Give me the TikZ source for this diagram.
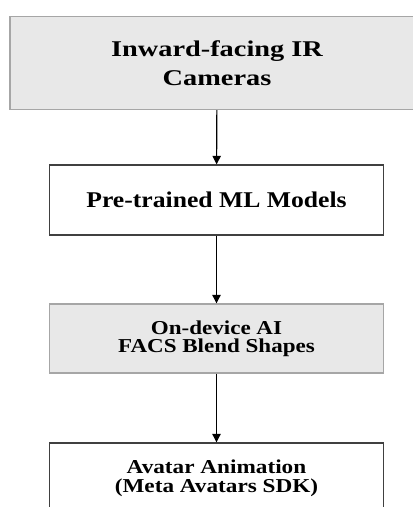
\documentclass[tikz,border=0pt]{standalone}
\usepackage{fontspec}
\setmainfont{Liberation Serif}
\usetikzlibrary{arrows.meta}

\begin{document}
\begin{tikzpicture}[x=0.025cm, y=-0.025cm]
    		\tikzstyle{grisBoite}=[draw=gray!70, line width=1pt, fill=gray!18, align=center]
    		\tikzstyle{blancBoite}=[draw=black!75, line width=1pt, fill=white, align=center]
    		\tikzstyle{fleche}=[-{Triangle[length=6pt,width=6pt]}, line width=0.8pt]

    		\useasboundingbox (0,0) rectangle (413,507);
    		\clip (0,0) rectangle (413,507);
    		% steps
    		\node [grisBoite, minimum width=10.35cm, minimum height=2.325cm,
    		       font=\bfseries\fontsize{16}{20.5}\selectfont\addfontfeature{FakeStretch=1.26}] (cameras) at (217,63) {Inward-facing IR\\Cameras};
    		\node [blancBoite, minimum width=8.35cm, minimum height=1.75cm,
    		       font=\bfseries\fontsize{16}{19}\selectfont\addfontfeature{FakeStretch=1.14}] (modeles) at (216.5,200) {Pre-trained ML Models};
    		\node [grisBoite, minimum width=8.35cm, minimum height=1.725cm,
    		       font=\bfseries\fontsize{14}{13}\selectfont\addfontfeature{FakeStretch=1.17}] (facs) at (216.5,338.5) {On-device AI\\FACS Blend Shapes};
    		\node [blancBoite, minimum width=8.35cm, minimum height=1.75cm,
    		       font=\bfseries\fontsize{14}{13.5}\selectfont\addfontfeature{FakeStretch=1.18}] (avatar) at (216.5,478) {Avatar Animation\\(Meta Avatars SDK)};
    		% links
    		\draw [fleche] (cameras) -- (modeles);
    		\draw [fleche] (modeles) -- (facs);
    		\draw [fleche] (facs) -- (avatar);

		\end{tikzpicture}
\end{document}
